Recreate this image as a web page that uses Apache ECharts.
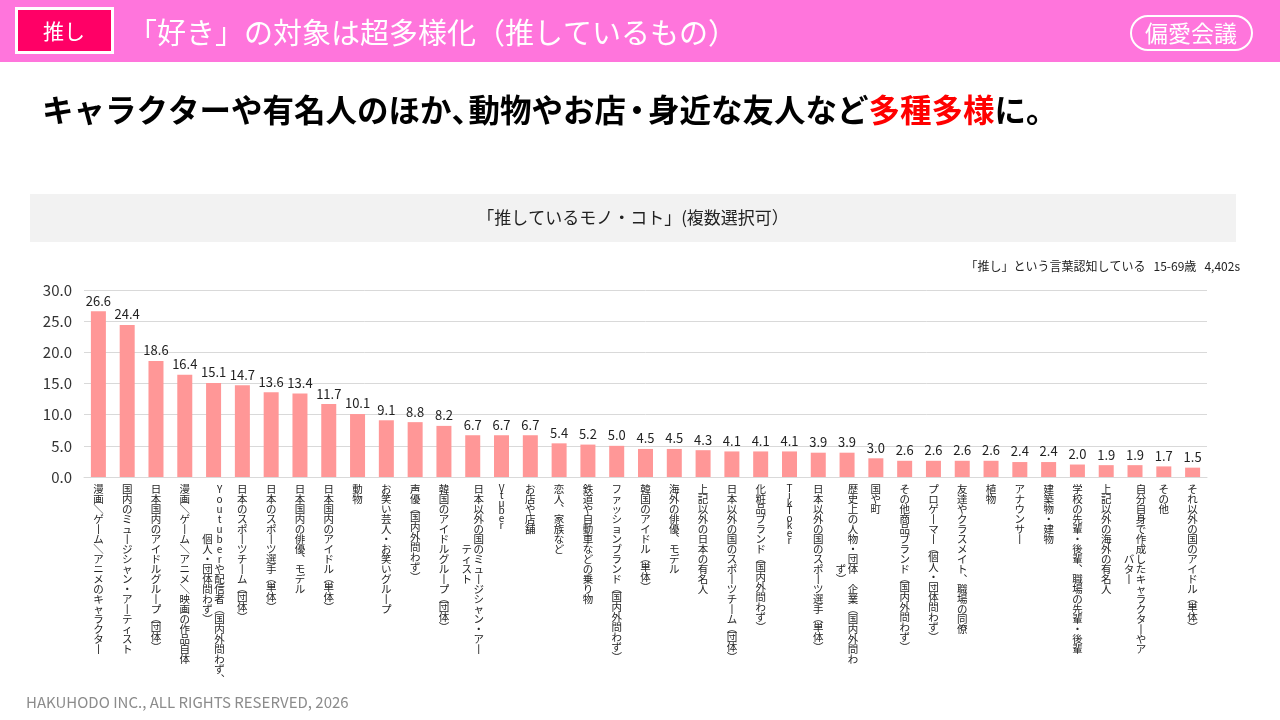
<!DOCTYPE html>
<html>
<head>
<meta charset="utf-8">
<script src="https://cdn.jsdelivr.net/npm/echarts@6/dist/echarts.min.js"></script>
<style>
  html, body { margin: 0; padding: 0; background: #fff; }
  #oshiChart { width: 1280px; height: 720px; }
</style>
</head>
<body>
<div id="oshiChart"></div>
<script>
// カテゴリ（\n は縦書きの2列目）
const categories = [
  '漫画/ゲーム/アニメのキャラクター',
  '国内のミュージシャン・アーティスト',
  '日本国内のアイドルグループ(団体)',
  '漫画/ゲーム/アニメ/映画の作品自体',
  'Youtuberや配信者(国内外問わず、\n個人・団体問わず)',
  '日本のスポーツチーム(団体)',
  '日本のスポーツ選手(単体)',
  '日本国内の俳優、モデル',
  '日本国内のアイドル(単体)',
  '動物',
  'お笑い芸人・お笑いグループ',
  '声優(国内外問わず)',
  '韓国のアイドルグループ(団体)',
  '日本以外の国のミュージシャン・アー\nティスト',
  'Vtuber',
  'お店や店舗',
  '恋人、家族など',
  '鉄道や自動車などの乗り物',
  'ファッションブランド(国内外問わず)',
  '韓国のアイドル(単体)',
  '海外の俳優、モデル',
  '上記以外の日本の有名人',
  '日本以外の国のスポーツチーム(団体)',
  '化粧品ブランド(国内外問わず)',
  'TikToker',
  '日本以外の国のスポーツ選手(単体)',
  '歴史上の人物・団体 企業(国内外問わ\nず)',
  '国や町',
  'その他商品ブランド(国内外問わず)',
  'プロゲーマー(個人・団体問わず)',
  '友達やクラスメイト、職場の同僚',
  '植物',
  'アナウンサー',
  '建築物・建物',
  '学校の先輩・後輩、職場の先輩・後輩',
  '上記以外の海外の有名人',
  '自分自身で作成したキャラクターやア\nバター',
  'その他',
  'それ以外の国のアイドル(単体)'
];
const values = [26.6, 24.4, 18.6, 16.4, 15.1, 14.7, 13.6, 13.4, 11.7, 10.1, 9.1, 8.8, 8.2, 6.7, 6.7, 6.7, 5.4, 5.2, 5.0, 4.5, 4.5, 4.3, 4.1, 4.1, 4.1, 3.9, 3.9, 3.0, 2.6, 2.6, 2.6, 2.6, 2.4, 2.4, 2.0, 1.9, 1.9, 1.7, 1.5];
const yMin = 0, yMax = 30, yStep = 5;

const barColor = '#ff9797';
const jpFont = '"Noto Sans CJK JP", "Noto Sans", sans-serif';

// 縦書き用の置き換え
const vertMap = { '、': '︑', 'ー': '丨', '/': '＼', ' ': '　' };
const parenMap = { '(': '︵', ')': '︶' };
function tok(ch) {
  if (ch === undefined) return '{j|　}';
  if (/[A-Za-z]/.test(ch)) return '{l|' + ch + '}';
  if (parenMap[ch]) return '{p|' + parenMap[ch] + '}';
  return '{j|' + (vertMap[ch] || ch) + '}';
}
function vertical(v) {
  const cols = v.split('\n');
  const c1 = Array.from(cols[0]);
  const c2 = cols[1] ? Array.from(cols[1]) : null;
  const off = c2 ? Math.floor((c1.length - c2.length) / 2) : 0;
  const rows = [];
  for (let i = 0; i < c1.length; i++) {
    let row = '';
    if (c2) row += tok(c2[i - off]);
    row += tok(c1[i]);
    rows.push(row);
  }
  return rows.join('\n');
}

const chart = echarts.init(document.getElementById('oshiChart'));
chart.setOption({
  backgroundColor: '#fff',
  textStyle: { fontFamily: jpFont },
  graphic: [
    { type: 'rect', shape: { x: 0, y: 0, width: 1280, height: 62 }, style: { fill: '#ff75dc' } },
    { type: 'rect', shape: { x: 16.5, y: 8.5, width: 96, height: 44 }, style: { fill: '#ff0066', stroke: '#fff', lineWidth: 3 } },
    { type: 'text', style: { x: 64, y: 31, text: '推し', fontSize: 21, fill: '#fff', align: 'center', verticalAlign: 'middle', fontFamily: jpFont } },
    { type: 'text', style: { x: 128, y: 33, text: '「好き」の対象は超多様化（推しているもの）', fontSize: 29, fill: '#fff', verticalAlign: 'middle', fontFamily: jpFont } },
    { type: 'rect', shape: { x: 1131, y: 16, width: 121, height: 34, r: 17 }, style: { fill: 'none', stroke: '#fff', lineWidth: 2 } },
    { type: 'text', style: { x: 1191, y: 33, text: '偏愛会議', fontSize: 23, fill: '#fff', align: 'center', verticalAlign: 'middle', fontFamily: jpFont } },
    {
      type: 'text',
      style: {
        x: 42, y: 110, verticalAlign: 'middle', fontFamily: jpFont,
        text: '{k|キャラクターや有名人のほか}{c|、}{k|動物やお店}{d|・}{k|身近な友人など}{r|多種多様}{k|に。}',
        rich: {
          k: { fontSize: 31.5, fontWeight: 'bold', fill: '#000', fontFamily: jpFont },
          c: { fontSize: 31.5, fontWeight: 'bold', fill: '#000', fontFamily: jpFont, width: 17 },
          d: { fontSize: 31.5, fontWeight: 'bold', fill: '#000', fontFamily: jpFont, width: 22, align: 'center' },
          r: { fontSize: 31.5, fontWeight: 'bold', fill: '#ff0000', fontFamily: jpFont }
        }
      }
    },
    { type: 'rect', shape: { x: 30, y: 194, width: 1206, height: 48 }, style: { fill: '#f2f2f2' } },
    { type: 'text', style: { x: 633, y: 218, text: '「推しているモノ・コト」(複数選択可）', fontSize: 17, fill: '#222', align: 'center', verticalAlign: 'middle', fontFamily: jpFont } },
    { type: 'text', style: { x: 1240, y: 266, text: '「推し」という言葉認知している   15-69歳   4,402s', fontSize: 12, fill: '#222', align: 'right', verticalAlign: 'middle', fontFamily: jpFont } },
    { type: 'text', style: { x: 26, y: 702, text: 'HAKUHODO INC., ALL RIGHTS RESERVED, 2026', fontSize: 15, fill: '#8c8c8c', verticalAlign: 'middle', fontFamily: jpFont } }
  ],
  grid: { left: 84, right: 73, top: 290, bottom: 243 },
  xAxis: {
    type: 'category',
    data: categories,
    axisTick: { show: false },
    axisLine: { lineStyle: { color: '#d9d9d9', width: 1 } },
    axisLabel: {
      interval: 0,
      margin: 7,
      formatter: vertical,
      rich: {
        j: { fontSize: 10.5, lineHeight: 10, width: 12, align: 'center', color: '#222', fontFamily: jpFont },
        p: { fontSize: 10.5, lineHeight: 8.5, width: 12, align: 'center', color: '#222', fontFamily: jpFont },
        l: { fontSize: 10, lineHeight: 7.5, width: 12, align: 'center', color: '#222', fontFamily: jpFont }
      }
    }
  },
  yAxis: {
    type: 'value',
    min: yMin,
    max: yMax,
    interval: yStep,
    axisLine: { show: false },
    axisTick: { show: false },
    axisLabel: { fontSize: 15, color: '#333', margin: 12, formatter: v => v.toFixed(1) },
    splitLine: { lineStyle: { color: '#d9d9d9' } }
  },
  series: [{
    type: 'bar',
    data: values,
    barWidth: 15,
    itemStyle: { color: barColor },
    label: { show: true, position: 'top', distance: 4, fontSize: 13, color: '#222', formatter: p => p.value.toFixed(1) }
  }]
});
</script>
</body>
</html>
